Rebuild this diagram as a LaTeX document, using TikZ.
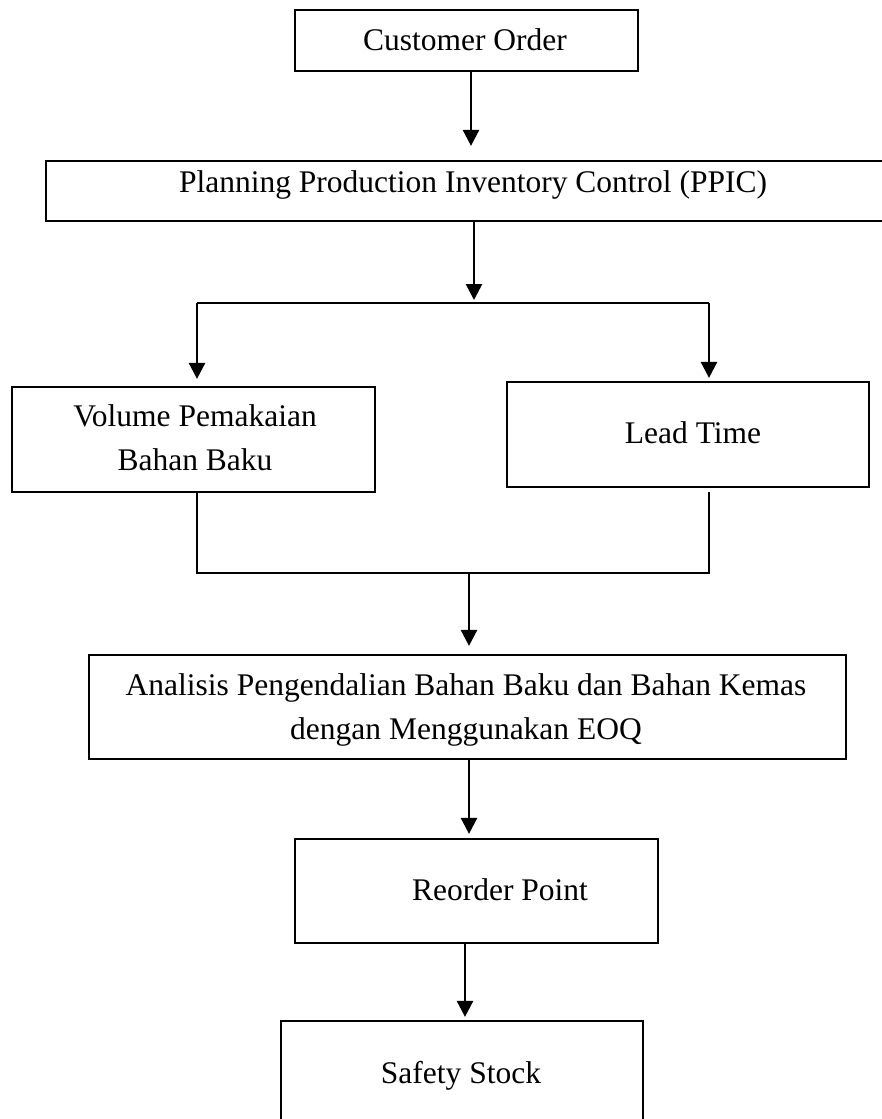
\documentclass[tikz,border=0pt]{standalone}
\usepackage{fontspec}
\setmainfont{Liberation Serif}
\usetikzlibrary{arrows.meta}
\begin{document}
\begin{tikzpicture}[x=1pt,y=-1pt,
  box/.style={draw, line width=2.2pt, rectangle, inner sep=0pt},
  txt/.style={font=\fontsize{31.5}{44}\selectfont, inner sep=0pt, align=center},
  arr/.style={line width=2.6pt, -{Triangle[width=16pt,length=16pt]}},
  ln/.style={line width=2.4pt}]
\useasboundingbox (0,0) rectangle (882,1119);
\clip (0,0) rectangle (882,1119);
% boxes
\node[box, minimum width=343pt, minimum height=61pt] (co) at (466.5,40.5) {};
\node[box, minimum width=854pt, minimum height=60pt] (ppic) at (473,191) {};
\node[box, minimum width=363pt, minimum height=105pt] (vol) at (193.5,439.5) {};
\node[box, minimum width=362pt, minimum height=105pt] (lead) at (688,434.5) {};
\node[box, minimum width=757pt, minimum height=104pt] (ana) at (467.5,707) {};
\node[box, minimum width=363pt, minimum height=104pt] (rop) at (476.5,891) {};
\node[box, minimum width=362pt, minimum height=104pt] (ss) at (462,1073) {};
% texts
\node[txt, anchor=base] (tco) at (465,50) {Customer Order};
\node[txt, anchor=base] (tppic) at (473,192) {Planning Production Inventory Control (PPIC)};
\node[txt, anchor=base] (tvol) at (195,470) {Volume Pemakaian\\Bahan Baku};
\node[txt, anchor=base] (tlead) at (693,443) {Lead Time};
\node[txt, anchor=base] (tana) at (466,739) {Analisis Pengendalian Bahan Baku dan Bahan Kemas\\dengan Menggunakan EOQ};
\node[txt, anchor=base] (trop) at (500,900) {Reorder Point};
\node[txt, anchor=base] (tss) at (461,1083) {Safety Stock};
% connectors
\coordinate (split) at (474,303);
\coordinate (sl) at (197,303);
\coordinate (sr) at (709,303);
\coordinate (jl) at (197,573);
\coordinate (jr) at (709,573);
\coordinate (jc) at (469,573);
\draw[arr, shorten >=14pt] ([xshift=4.5pt]co.south) -- ([xshift=4.5pt]co.south |- ppic.north);
\draw[arr, shorten >=3pt] (ppic.south -| split) -- (split);
\draw[ln] (sl) -- (sr);
\draw[arr, shorten >=7pt] (sl) -- (sl |- vol.north);
\draw[arr, shorten >=3pt] (sr) -- (sr |- lead.north);
\draw[ln] ([yshift=-4pt]lead.south -| jr) -- (jr) -- (jl) -- (vol.south -| jl);
\draw[arr, shorten >=8pt] (jc) -- (jc |- ana.north);
\draw[arr, shorten >=4pt] (jc |- ana.south) -- (jc |- rop.north);
\draw[arr, shorten >=3pt] ([xshift=-11.5pt]rop.south) -- ([xshift=-11.5pt]rop.south |- ss.north);
\end{tikzpicture}
\end{document}
